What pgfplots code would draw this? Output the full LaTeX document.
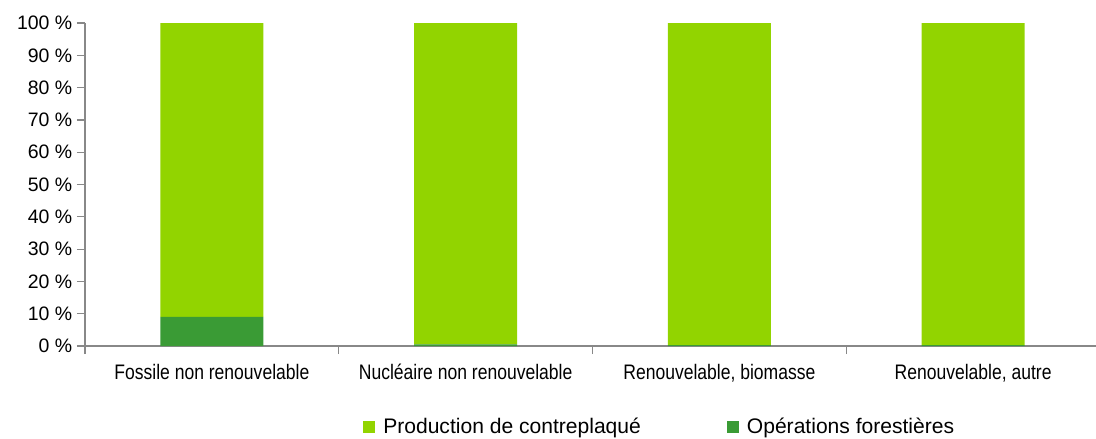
\documentclass[border=0pt]{standalone}
\usepackage{pgfplots}
\pgfplotsset{compat=1.18}
\usepackage{fontspec}
\setmainfont{Liberation Sans}
\newfontfamily\narrowfont[FakeStretch=0.835]{Liberation Sans}
\definecolor{lightg}{HTML}{92D400}
\definecolor{darkg}{HTML}{3A9B35}
\definecolor{axg}{HTML}{888888}
\begin{document}
\begin{tikzpicture}
\begin{axis}[
  scale only axis,
  width=761.25pt, height=242.25pt,
  ybar stacked, bar width=0.405,
  xmin=-0.5, xmax=3.5, ymin=0, ymax=100,
  axis lines*=left,
  axis line style={axg, line width=0.9pt},
  xtick={0,1,2,3},
  xticklabels={{Fossile non renouvelable}, {Nucléaire non renouvelable}, {Renouvelable, biomasse}, {Renouvelable, autre}},
  typeset ticklabels with strut,
  major x tick style={draw=none},
  minor xtick={-0.5,0.5,1.5,2.5},
  minor x tick style={axg, line width=0.9pt},
  minor tick length=6pt,
  x tick label style={font=\narrowfont\fontsize{15.75}{18}\selectfont, yshift=-3pt},
  ytick={0,10,...,100},
  y tick style={axg, line width=0.9pt},
  major tick length=6pt,
  tick align=outside,
  /pgf/number format/assume math mode=true,
  yticklabel={\pgfmathprintnumber{\tick}\hspace{0.28em}\%},
  y tick label style={font=\fontsize{14.6}{17}\selectfont},
  legend columns=2,
  reverse legend,
  legend style={draw=none, inner sep=0pt, at={(0.2739,-0.251)}, anchor=west, font=\fontsize{15.8}{18}\selectfont,
    /tikz/every even column/.append style={column sep=62.5pt}},
  legend image code/.code={\fill[#1] (0pt,-4.2pt) rectangle (9pt,4.2pt); \path (13pt,0pt);},
  clip=false,
]
\addplot[fill=darkg, draw=none] coordinates {(0,9) (1,0.5) (2,0.3) (3,0.3)};
\addplot[fill=lightg, draw=none] coordinates {(0,91) (1,99.5) (2,99.7) (3,99.7)};
\legend{Opérations forestières, Production de contreplaqué}
\coordinate (bbl) at (rel axis cs:-0.08374,-0.28483);
\coordinate (btr) at (rel axis cs:0.99606,1.07121);
\end{axis}
\pgfresetboundingbox
\useasboundingbox (bbl) rectangle (btr);
\end{tikzpicture}
\end{document}
